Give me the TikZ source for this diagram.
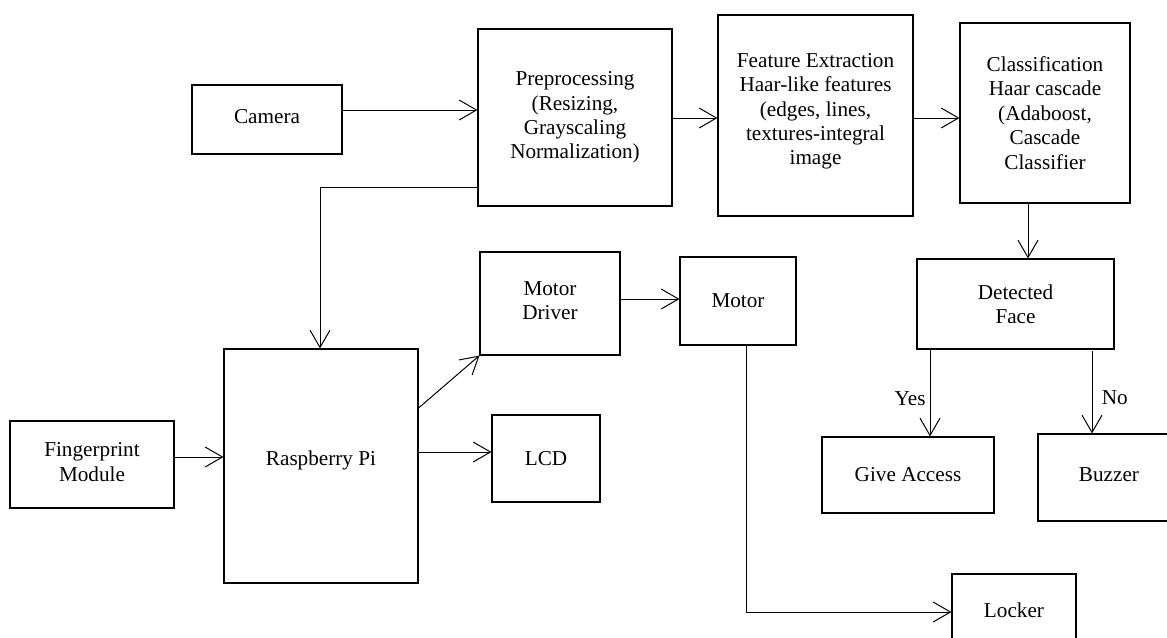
\documentclass[tikz,border=0pt]{standalone}
\usepackage{fontspec}
\setmainfont{Liberation Serif}
\usetikzlibrary{arrows.meta}
\tikzset{
  box/.style={draw, line width=0.8pt, rectangle, align=center, inner sep=0pt,
    font=\fontsize{15.9}{18.3}\selectfont},
  arr/.style={line width=0.75pt, -{Straight Barb[length=13pt,width=15pt,line width=0.75pt]}},
  lbl/.style={font=\fontsize{15.9}{18.3}\selectfont, inner sep=3pt}
}
\begin{document}
\begin{tikzpicture}[x=0.75pt,y=-0.75pt]
\useasboundingbox (0,0) rectangle (1167,637);
\begin{scope}
\clip (0,0) rectangle (1167,637);
% boxes (positions in reference pixels)
\node[box, minimum width=112.5pt, minimum height=51.75pt, text depth=4.5pt] (cam) at (267,119.5) {Camera};
\node[box, minimum width=145.5pt, minimum height=132.75pt] (pre) at (575,117.5) {Preprocessing\\(Resizing,\\Grayscaling\\Normalization)};
\node[box, minimum width=146.25pt, minimum height=150.75pt, text depth=9.5pt] (feat) at (815.5,115.5) {Feature Extraction\\Haar-like features\\(edges, lines,\\textures-integral\\image};
\node[box, minimum width=127.5pt, minimum height=135pt] (cls) at (1045,113) {Classification\\Haar cascade\\(Adaboost,\\Cascade\\Classifier};
\node[box, minimum width=147.75pt, minimum height=67.5pt] (det) at (1015.5,304) {Detected\\Face};
\node[box, minimum width=129pt, minimum height=57pt] (ga) at (908,475) {Give Access};
\node[box, minimum width=106.5pt, minimum height=65.25pt, text depth=5pt] (buz) at (1109,477.5) {Buzzer};
\node[box, minimum width=93pt, minimum height=54pt] (lock) at (1014,610) {Locker};
\node[box, minimum width=87pt, minimum height=66pt] (mot) at (738,301) {Motor};
\node[box, minimum width=105pt, minimum height=77.25pt, text depth=4.5pt] (md) at (550,303.5) {Motor\\Driver};
\node[box, minimum width=81pt, minimum height=65.25pt] (lcd) at (546,458.5) {LCD};
\node[box, minimum width=145.5pt, minimum height=175.5pt, text depth=12.5pt] (rpi) at (321,466) {Raspberry Pi};
\node[box, minimum width=123pt, minimum height=65.25pt, text depth=3.75pt] (fp) at (92,464.5) {Fingerprint\\Module};
% connectors
\draw[arr] (cam.east |- 0,110) -- (pre.west |- 0,110);
\draw[arr] (pre.east |- 0,118) -- (feat.west |- 0,118);
\draw[arr] (feat.east |- 0,118) -- (cls.west |- 0,118);
\draw[arr] (cls.south -| 1028,0) -- (det.north -| 1028,0);
\draw[arr] (pre.west |- 0,187) -| (rpi.north -| 320,0);
\draw[arr] (fp.east |- 0,457) -- (rpi.west |- 0,457);
\draw[arr] (rpi.east |- 0,408) -- (md.south west);
\draw[arr] (rpi.east |- 0,452) -- (lcd.west |- 0,452);
\draw[arr] (md.east |- 0,299) -- (mot.west |- 0,299);
\draw[arr] (mot.south -| 746,0) |- (lock.west |- 0,612);
\draw[arr] (det.south -| 930,0) -- node[lbl, pos=0.56, left] (yes) {Yes} (ga.north -| 930,0);
\draw[arr] (1092,351) -- node[lbl, pos=0.57, right, xshift=4pt] (no) {No} (buz.north -| 1092,0);
\end{scope}
\end{tikzpicture}
\end{document}
